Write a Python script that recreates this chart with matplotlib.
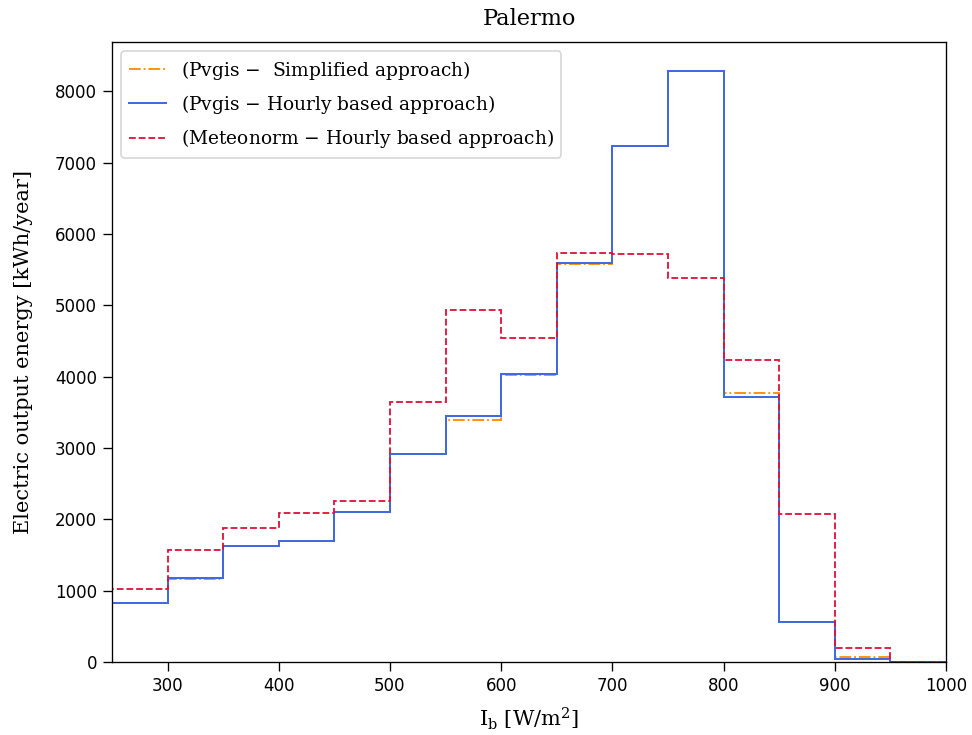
import numpy as np
import matplotlib
matplotlib.use("Agg")
import matplotlib.pyplot as plt
from matplotlib.lines import Line2D

plt.rcParams['mathtext.fontset'] = 'dejavuserif'
plt.rcParams['xtick.major.size'] = 5.5
plt.rcParams['ytick.major.size'] = 5.5

# bin edges of direct irradiance [W/m2]
edges = [250, 300, 350, 400, 450, 500, 550, 600, 650, 700, 750, 800, 850, 900, 950, 1000]

# electric output energy per bin [kWh/year]
pvgis_simplified = [830, 1170, 1625, 1690, 2100, 2915, 3400, 4020, 5580, 7240, 8280, 3765, 560, 75, 0]
pvgis_hourly = [830, 1172, 1625, 1690, 2100, 2915, 3445, 4045, 5600, 7240, 8280, 3710, 560, 42, 0]
meteonorm_hourly = [1025, 1565, 1880, 2090, 2260, 3640, 4940, 4540, 5740, 5720, 5390, 4230, 2070, 190, 5]

labels = ['(Pvgis $-$  Simplified approach)',
          '(Pvgis $-$ Hourly based approach)',
          '(Meteonorm $-$ Hourly based approach)']

centers = [(a + b) / 2 for a, b in zip(edges[:-1], edges[1:])]

fig = plt.figure(figsize=(8.1, 6.125), dpi=120)
ax = fig.add_axes([0.1152, 0.0993, 0.8581, 0.8436])

styles = [('darkorange', '-.', 1.1), ('royalblue', '-', 1.2), ('crimson', '--', 1.1)]
handles = []
for vals, (c, ls, lw), lab in zip([pvgis_simplified, pvgis_hourly, meteonorm_hourly], styles, labels):
    ax.hist(centers, bins=edges, weights=vals, histtype='step',
            color=c, linestyle=ls, linewidth=lw)
    handles.append(Line2D([], [], color=c, linestyle=ls, linewidth=lw, label=lab))

ax.set_xlim(250, 1000)
ax.set_title('Palermo', family='DejaVu Serif', fontsize=13.5, pad=10)
ax.set_xlabel(r'$\mathrm{I_b}$ [W/m$^2$]', family='DejaVu Serif', fontsize=12.5, labelpad=6)
ax.set_ylabel('Electric output energy [kWh/year]', family='DejaVu Serif', fontsize=12.5, labelpad=13)
ax.legend(handles=handles, loc='upper left', labelspacing=0.6,
          prop={'family': 'DejaVu Serif', 'size': 11.2})

fig.savefig('out.png', dpi=120)
